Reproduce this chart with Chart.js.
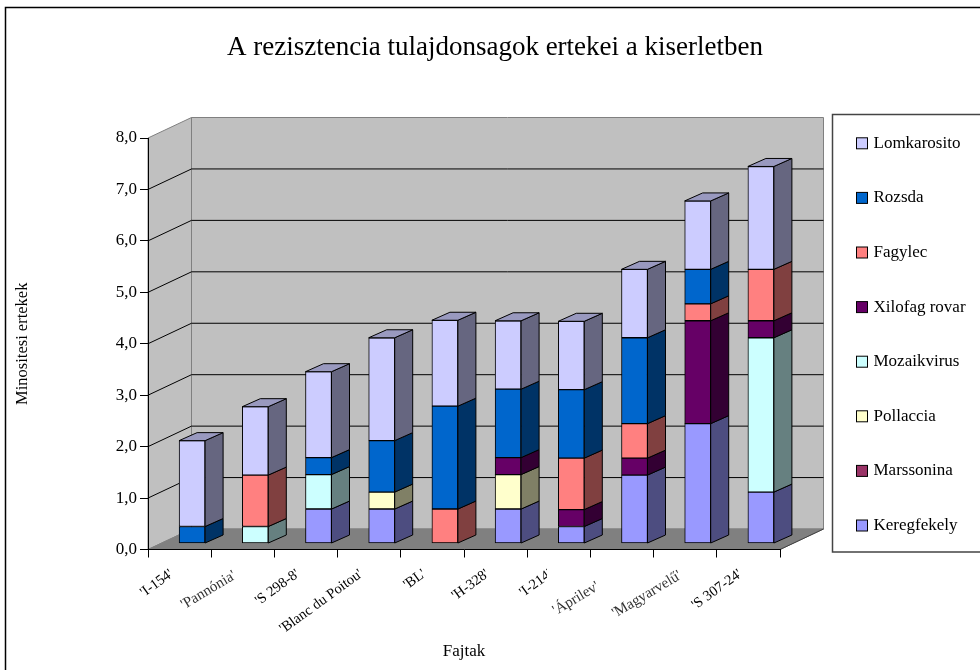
<!DOCTYPE html>
<html><head><meta charset="utf-8">
<style>html,body{margin:0;padding:0;background:#fff}canvas{display:block}</style>
<script src="https://cdn.jsdelivr.net/npm/chart.js@4"></script></head>
<body><canvas id="c" width="980" height="670"></canvas>
<script>
const titleText = "A rezisztencia tulajdonsagok ertekei a kiserletben";
const yAxisTitle = "Minositesi ertekek";
const xAxisTitle = "Fajtak";
const categories = ["'I-154'","'Pannónia'","'S 298-8'","'Blanc du Poitou'","'BL'","'H-328'","'I-214'","'Áprilev'","'Magyarvelű'","'S 307-24'"];
const blurred = ["'Pannónia'","'Áprilev'","'Magyarvelű'"];
const keregfekely = [null,null,0.67,0.67,null,0.67,0.33,1.33,2.33,1.0];
const marssonina  = [null,null,null,null,null,null,null,null,null,null];
const pollaccia   = [null,null,null,0.33,null,0.67,null,null,null,null];
const mozaikvirus = [null,0.33,0.67,null,null,null,null,null,null,3.0];
const xilofag     = [null,null,null,null,null,0.33,0.33,0.33,2.0,0.33];
const fagylec     = [null,1.0,null,null,0.67,null,1.0,0.67,0.33,1.0];
const rozsda      = [0.33,null,0.33,1.0,2.0,1.33,1.33,1.67,0.67,null];
const lomkarosito = [1.67,1.33,1.67,2.0,1.67,1.33,1.33,1.33,1.33,2.0];

const serif = "'Liberation Serif','Times New Roman',serif";
const WALL = {dx:43.5, dy:-20.5}, BAR = {dx:12.5, dy:-6, sx:18, sy:-8};
const LEGEND = {x:857, top:97.2, pad:37.6, item:17, box:11};
const BLUR = {"'Pannónia'":[-8,25],"'Áprilev'":[-24,36],"'Magyarvelű'":[-5,25]};

function shade(hex,f){const n=parseInt(hex.slice(1),16);
  return `rgb(${Math.round((n>>16&255)*f)},${Math.round((n>>8&255)*f)},${Math.round((n&255)*f)})`;}
function poly(ctx,pts,fill,stroke,lw){ctx.beginPath();pts.forEach((p,i)=>i?ctx.lineTo(p[0],p[1]):ctx.moveTo(p[0],p[1]));ctx.closePath();
  if(fill){ctx.fillStyle=fill;ctx.fill();} if(stroke){ctx.strokeStyle=stroke;ctx.lineWidth=lw||1;ctx.stroke();}}

const scene = {
  id:'scene',
  beforeLayout(chart){
    const lg=chart.legend;
    if(lg && !lg._patched){const f=lg.fit;lg.fit=function(){f.call(this);this.width=200;};lg._patched=true;}
  },
  afterLayout(chart){
    const lg=chart.legend; lg.left=LEGEND.x-LEGEND.pad; lg.right=1200; lg.top=LEGEND.top; lg.bottom=668;
  },
  beforeDraw(chart){
    const {ctx}=chart, x=chart.scales.x, y=chart.scales.y;
    const L=x.left,R=x.right,T=y.getPixelForValue(8),B=y.getPixelForValue(0),{dx,dy}=WALL;
    ctx.save();
    ctx.strokeStyle='#000';ctx.lineWidth=1.5;ctx.beginPath();ctx.moveTo(5.5,670);ctx.lineTo(5.5,7.5);ctx.lineTo(980,7.5);ctx.stroke();
    ctx.strokeStyle='#444';ctx.lineWidth=1.5;ctx.beginPath();ctx.moveTo(980,114.5);ctx.lineTo(832.5,114.5);ctx.lineTo(832.5,552);ctx.lineTo(980,552);ctx.stroke();
    poly(ctx,[[L,T],[L+dx,T+dy],[L+dx,B+dy],[L,B]],'#c0c0c0','#808080');
    poly(ctx,[[L+dx,T+dy],[R+dx,T+dy],[R+dx,B+dy],[L+dx,B+dy]],'#c0c0c0','#808080');
    poly(ctx,[[L,B],[L+dx,B+dy],[R+dx,B+dy],[R,B]],'#808080','#808080');
    ctx.strokeStyle='#000';ctx.lineWidth=1;
    y.ticks.forEach(t=>{ if(t.value===0||t.value===8) return;
      const p=y.getPixelForValue(t.value);
      ctx.beginPath();ctx.moveTo(L,p);ctx.lineTo(L+dx,p+dy);ctx.lineTo(R+dx,p+dy);ctx.stroke();});
    ctx.strokeStyle='#404040';
    ctx.beginPath();ctx.moveTo(R,B);ctx.lineTo(R+dx,B+dy);ctx.stroke();
    ctx.restore();
  },
  beforeDatasetsDraw(chart){chart.ctx.save();chart.ctx.translate(BAR.dx,BAR.dy);},
  afterDatasetsDraw(chart){
    const {ctx}=chart,{sx,sy}=BAR;
    chart.data.datasets.forEach((ds,i)=>{
      chart.getDatasetMeta(i).data.forEach((el,j)=>{
        if(ds.data[j]==null) return;
        const {x,y,base,width}=el.getProps(['x','y','base','width'],true);
        const r=x+width/2,l=x-width/2;
        poly(ctx,[[r,y],[r+sx,y+sy],[r+sx,base+sy],[r,base]],shade(ds.backgroundColor,0.5),'#000',1);
        const top=!chart.data.datasets.slice(i+1).some(d=>d.data[j]!=null);
        if(top) poly(ctx,[[l,y],[l+sx,y+sy],[r+sx,y+sy],[r,y]],shade(ds.backgroundColor,0.75),'#000',1);
      });
    });
    ctx.restore();
  },
  afterDraw(chart){
    const {ctx}=chart, xs=chart.scales.x, y0=xs.top; ctx.save();
    // label masked in the reference by the neighbouring blurred label's box
    ctx.fillStyle='#fff';ctx.fillRect(547,558,8,40);
    // blurred rotated labels
    categories.forEach((c,i)=>{
      const o=BLUR[c]; if(!o) return;
      ctx.save();
      ctx.filter='blur(0.6px)';ctx.fillStyle='#333';ctx.font=`15px ${serif}`;ctx.textAlign='right';ctx.textBaseline='middle';
      ctx.translate(xs.getPixelForValue(i)+o[0],y0+o[1]);ctx.rotate(-31*Math.PI/180);ctx.fillText(c,0,0);ctx.restore();
    });
    // legend swatches at their full size
    [...chart.data.datasets].reverse().forEach((ds,i)=>{
      const yc=LEGEND.top+LEGEND.pad+i*(LEGEND.item+LEGEND.pad)+LEGEND.item/2;
      ctx.fillStyle=ds.backgroundColor;ctx.strokeStyle='#000';ctx.lineWidth=1;
      ctx.fillRect(LEGEND.x-.5,yc-LEGEND.box/2,LEGEND.box,LEGEND.box);ctx.strokeRect(LEGEND.x-.5,yc-LEGEND.box/2,LEGEND.box,LEGEND.box);
    });
    ctx.restore();
  }
};

const mk=(label,data,color)=>({label,data,backgroundColor:color,borderColor:'#000',borderWidth:1,borderSkipped:false,barThickness:26,clip:false});
new Chart(document.getElementById('c'),{
  type:'bar',
  plugins:[scene],
  data:{labels:categories,datasets:[
    mk('Keregfekely',keregfekely,'#9999ff'),
    mk('Marssonina',marssonina,'#993366'),
    mk('Pollaccia',pollaccia,'#ffffcc'),
    mk('Mozaikvirus',mozaikvirus,'#ccffff'),
    mk('Xilofag rovar',xilofag,'#660066'),
    mk('Fagylec',fagylec,'#ff8080'),
    mk('Rozsda',rozsda,'#0066cc'),
    mk('Lomkarosito',lomkarosito,'#ccccff')
  ]},
  options:{
    responsive:false,animation:false,
    layout:{padding:{left:10,right:0,top:0,bottom:8}},
    plugins:{
      title:{display:true,text:titleText,color:'#000',font:{family:serif,size:27,weight:'normal'},padding:{top:32,bottom:73.6}},
      legend:{position:'right',align:'start',reverse:true,
        labels:{color:'#000',font:{family:serif,size:17},boxWidth:8,boxHeight:8,padding:LEGEND.pad}},
      tooltip:{enabled:false}
    },
    scales:{
      x:{stacked:true,
        afterFit(s){s.height=112.5;},
        border:{color:'#000',width:1},
        grid:{drawOnChartArea:false,drawTicks:true,tickLength:8,tickColor:'#000',offset:true},
        ticks:{autoSkip:false,minRotation:36,maxRotation:36,color:'#000',font:{family:serif,size:14.5},labelOffset:-8,padding:8,
          callback(v){const c=this.getLabelForValue(v);return blurred.includes(c)?'':c;}},
        title:{display:true,text:xAxisTitle,color:'#000',font:{family:serif,size:17},padding:0}
      },
      y:{stacked:true,min:0,max:8,
        afterFit(s){s.width=138;},
        border:{color:'#000',width:1},
        grid:{drawOnChartArea:false,drawTicks:true,tickLength:8,tickColor:'#000'},
        ticks:{stepSize:1,color:'#000',font:{family:serif,size:17},padding:3,callback:v=>v.toFixed(1).replace('.',',')},
        title:{display:true,text:yAxisTitle,color:'#000',font:{family:serif,size:16.5},padding:{top:3,bottom:0}}
      }
    }
  }
});
</script></body></html>
